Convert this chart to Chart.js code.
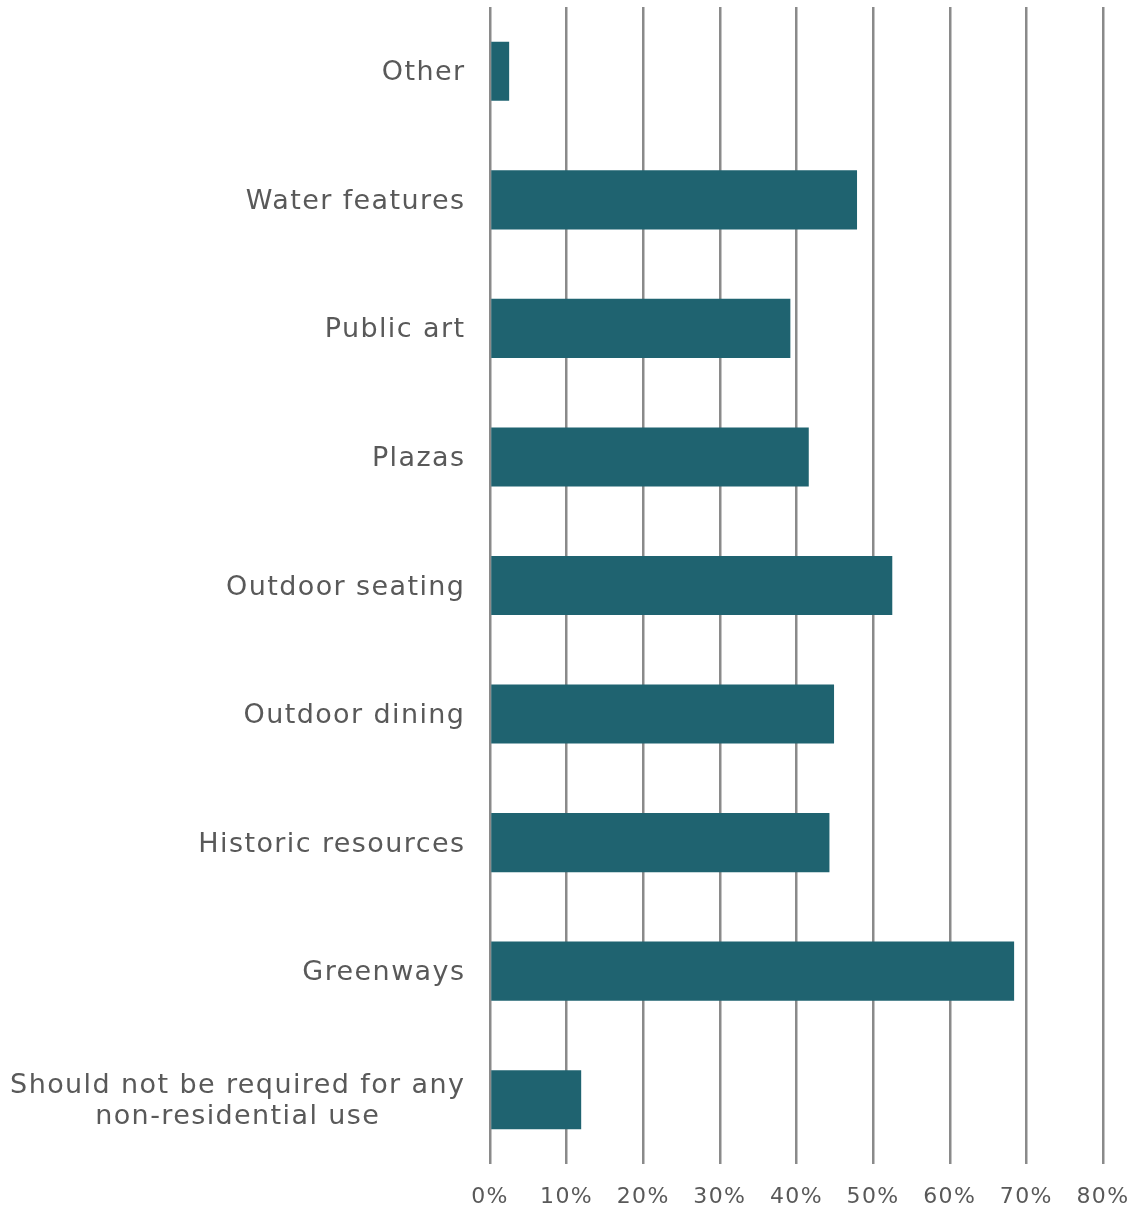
<!DOCTYPE html>
<html>
<head>
<meta charset="utf-8">
<script src="https://cdn.jsdelivr.net/npm/chart.js@4/dist/chart.umd.min.js"></script>
<style>
  html, body { margin: 0; padding: 0; background: #ffffff; }
  #wrap { width: 1138px; height: 1209px; }
</style>
</head>
<body>
<div id="wrap"><canvas id="amenityChart"></canvas></div>
<script>
// Categories, top to bottom
const categories = [
    'Other',
    'Water features',
    'Public art',
    'Plazas',
    'Outdoor seating',
    'Outdoor dining',
    'Historic resources',
    'Greenways',
    ['Should not be required for any', 'non-residential use']
];

// Share of respondents (%)
const shares = [2.5, 47.9, 39.2, 41.6, 52.5, 44.9, 44.3, 68.4, 11.9];

// X axis ticks
const tickValues = [0, 10, 20, 30, 40, 50, 60, 70, 80];

const fontFamily = '"DejaVu Sans", sans-serif';
const labelFont = '27px ' + fontFamily;
const textColor = '#595959';

// wider letter spacing to get closer to the original typeface
const spacing = {
    id: 'spacing',
    beforeDraw(chart) {
        chart.ctx.letterSpacing = '1.4px';
    }
};

// Draw category labels: block right-aligned, lines centred within the block
const categoryLabels = {
    id: 'categoryLabels',
    afterDraw(chart) {
        const ctx = chart.ctx;
        const yScale = chart.scales.y;
        const right = chart.chartArea.left - 26;
        const lineHeight = 31;
        ctx.save();
        ctx.font = labelFont;
        ctx.letterSpacing = '1.4px';
        ctx.fillStyle = textColor;
        ctx.textBaseline = 'middle';
        ctx.textAlign = 'left';
        categories.forEach(function(label, i) {
            const lines = Array.isArray(label) ? label : [label];
            const widths = lines.map(l => ctx.measureText(l).width - 1.4);
            const widest = Math.max.apply(null, widths);
            const cy = yScale.getPixelForTick(i) + 2;
            const startY = cy - (lines.length - 1) * lineHeight / 2;
            lines.forEach(function(line, j) {
                const x = right - widest / 2 - widths[j] / 2;
                ctx.fillText(line, x, startY + j * lineHeight);
            });
        });
        ctx.restore();
    }
};

new Chart(document.getElementById('amenityChart'), {
    type: 'bar',
    data: {
        labels: categories,
        datasets: [{
            data: shares,
            backgroundColor: '#1f6370',
            borderWidth: 0,
            categoryPercentage: 0.46,
            barPercentage: 1.0
        }]
    },
    plugins: [spacing, categoryLabels],
    options: {
        indexAxis: 'y',
        responsive: true,
        maintainAspectRatio: false,
        animation: false,
        layout: {
            padding: { top: 7, right: 35, left: 0, bottom: 0 }
        },
        plugins: {
            legend: { display: false },
            tooltip: { enabled: false }
        },
        scales: {
            x: {
                min: 0,
                max: 80,
                afterBuildTicks: function(scale) {
                    scale.ticks = tickValues.map(v => ({ value: v }));
                },
                afterFit: function(scale) {
                    scale.height = 45;
                    scale.paddingLeft = 0;
                    scale.paddingRight = 0;
                },
                grid: {
                    color: '#8a8a8a',
                    lineWidth: 2.5,
                    drawTicks: false
                },
                border: { display: false },
                ticks: {
                    padding: 20,
                    color: textColor,
                    font: { family: fontFamily, size: 22 },
                    callback: function(value) {
                        return value + '%';
                    }
                }
            },
            y: {
                afterFit: function(scale) {
                    scale.width = 490;
                },
                grid: { display: false },
                border: { display: false },
                ticks: { display: false }
            }
        }
    }
});
</script>
</body>
</html>
